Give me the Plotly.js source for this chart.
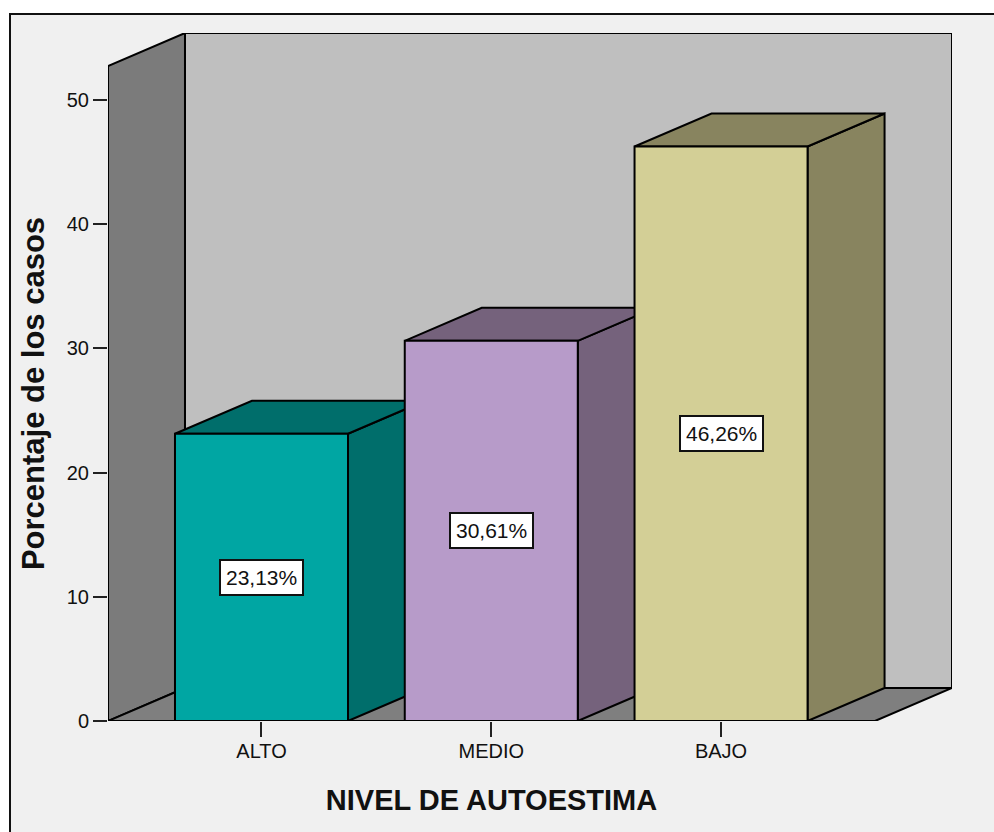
<!DOCTYPE html>
<html>
<head>
<meta charset="utf-8">
<script src="https://cdn.plot.ly/plotly-3.0.1.min.js"></script>
<style>
html,body{margin:0;padding:0;background:#fff;width:994px;height:832px;overflow:hidden}
#frame{position:absolute;left:9px;top:13px;width:985px;height:819px;background:#f0f0f0;border-left:2px solid #111;border-top:2px solid #111;box-sizing:border-box}
#chart{position:absolute;left:0;top:0;width:994px;height:832px}
</style>
</head>
<body>
<div id="frame"></div>
<div id="chart"></div>
<script>
const categories = ['ALTO', 'MEDIO', 'BAJO'];
const values = [23.13, 30.61, 46.26];
const frontColors = ['#00a6a3', '#b79bc9', '#d3cf96'];
const sideColors = ['#006e6b', '#75627c', '#88845f'];
const yTicks = [0, 10, 20, 30, 40, 50];
const xTitle = 'NIVEL DE AUTOESTIMA';
const yTitle = 'Porcentaje de los casos';

const W = 994, H = 832;
// plot area in pixels: the back wall reaches R/T, the front axes stop at frontR/frontT
const L = 108, R = 952, T = 33, B = 721, frontR = 875, frontT = 66;
const xRange = [-0.668, 2.670];
const yRange = [0, 52.74];
const depthX = 0.335, depthY = 2.657, barWidth = 0.753;
const xs = categories.map((c, i) => i);
const half = barWidth / 2;
const edge = {color: '#000', width: 2};

function face(x, y, fill) {
  return {type: 'scatter', mode: 'lines', x: x.concat(x[0]), y: y.concat(y[0]), fill: 'toself',
    fillcolor: fill, line: edge, hoverinfo: 'skip', showlegend: false, cliponaxis: false};
}

const x0 = xRange[0], x1 = xRange[1], y1 = yRange[1];
const traces = [
  face([x0 + depthX, x1 + depthX, x1 + depthX, x0 + depthX], [depthY, depthY, y1 + depthY, y1 + depthY], '#bfbfbf'),
  face([x0, x0 + depthX, x0 + depthX, x0], [0, depthY, y1 + depthY, y1], '#7b7b7b'),
  face([x0, x1, x1 + depthX, x0 + depthX], [0, 0, depthY, depthY], '#7f7f7f')
];
xs.forEach((x, i) => {
  const v = values[i], a = x - half, b = x + half;
  traces.push(face([b, b + depthX, b + depthX, b], [0, depthY, v + depthY, v], sideColors[i]));
  traces.push(face([a, b, b + depthX, a + depthX], [v, v, v + depthY, v + depthY], sideColors[i]));
});
traces.push({
  type: 'bar', x: xs, y: values, width: barWidth, xaxis: 'x2', yaxis: 'y2',
  marker: {color: frontColors, line: edge}, hoverinfo: 'skip', showlegend: false, cliponaxis: false
});

const tickFont = {family: '"Liberation Sans", Arial, sans-serif', size: 20, color: '#111'};

const layout = {
  width: W, height: H,
  margin: {l: L, r: W - R, t: T, b: H - B, pad: 0},
  paper_bgcolor: 'rgba(0,0,0,0)',
  plot_bgcolor: 'rgba(0,0,0,0)',
  showlegend: false,
  // hidden full-size axes for the walls, floor and depth faces
  xaxis: {range: [x0, x1 + depthX], visible: false, anchor: 'y'},
  yaxis: {range: [0, y1 + depthY], visible: false, anchor: 'x'},
  // visible front axes for the bars, ticks and titles
  xaxis2: {
    domain: [0, (frontR - L) / (R - L)], anchor: 'y2',
    range: xRange, tickmode: 'array', tickvals: xs, ticktext: categories, tickfont: tickFont,
    ticks: 'outside', ticklen: 15, tickwidth: 2, tickcolor: '#222', showgrid: false, zeroline: false, showline: false,
    ticklabelstandoff: -3,
    title: {text: xTitle, font: {family: '"Liberation Sans", Arial, sans-serif', size: 29, color: '#111', weight: 700}, standoff: 28}
  },
  yaxis2: {
    domain: [0, (B - frontT) / (B - T)], anchor: 'x2',
    range: yRange, tickmode: 'array', tickvals: yTicks, tickfont: tickFont,
    ticks: 'outside', ticklen: 14, tickwidth: 2, tickcolor: '#222', showgrid: false, zeroline: false, showline: false,
    title: {text: yTitle, font: {family: '"Liberation Sans", Arial, sans-serif', size: 31, color: '#111', weight: 700}, standoff: 12}
  },
  annotations: xs.map((x, i) => ({
    x: x, y: values[i] / 2, xref: 'x2', yref: 'y2',
    text: values[i].toFixed(2).replace('.', ',') + '%',
    showarrow: false, bgcolor: '#fff', bordercolor: '#111', borderwidth: 2, borderpad: 5,
    font: {family: '"Liberation Sans", Arial, sans-serif', size: 21, color: '#111'}
  }))
};
Plotly.newPlot('chart', traces, layout, {displayModeBar: false, staticPlot: true});
</script>
</body>
</html>
